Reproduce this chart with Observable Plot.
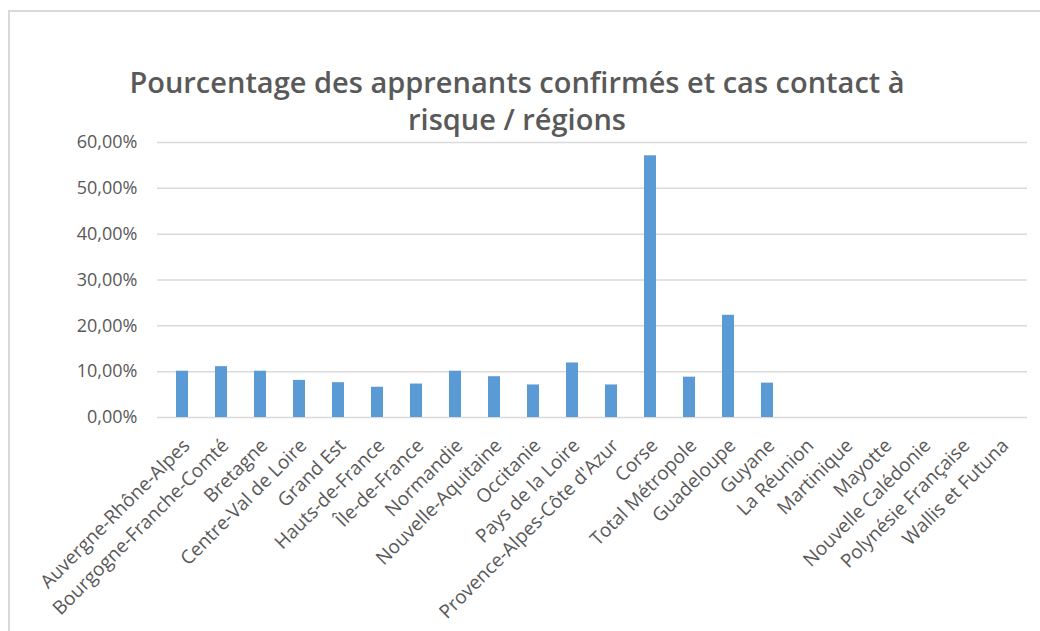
<!DOCTYPE html>
<html>
<head>
<meta charset="utf-8">
<script src="https://cdn.jsdelivr.net/npm/d3@7"></script>
<script src="https://cdn.jsdelivr.net/npm/@observablehq/plot@0.6"></script>
<style>
  html, body { margin: 0; padding: 0; background: #fff; }
  #wrap { position: relative; width: 1040px; height: 631px; overflow: hidden; background: #fff; }
  #frame { position: absolute; left: 8px; top: 10px; width: 1100px; height: 700px; border-left: 2.5px solid #d9d9d9; border-top: 2.5px solid #d9d9d9; box-sizing: border-box; }
  #title { position: absolute; left: 0; top: 63px; width: 1034px; text-align: center; font-family: "Open Sans", sans-serif; font-weight: 600; font-size: 29px; line-height: 37px; color: #595959; }
  #chart { position: absolute; left: 0; top: 0; }
</style>
</head>
<body>
<div id="wrap">
  <div id="frame"></div>
  <div id="title">Pourcentage des apprenants confirmés et cas contact à<br>risque / régions</div>
  <div id="chart"></div>
</div>
<script>
const regions = [
  "Auvergne-Rhône-Alpes", "Bourgogne-Franche-Comté", "Bretagne", "Centre-Val de Loire",
  "Grand Est", "Hauts-de-France", "Île-de-France", "Normandie", "Nouvelle-Aquitaine",
  "Occitanie", "Pays de la Loire", "Provence-Alpes-Côte d'Azur", "Corse", "Total Métropole",
  "Guadeloupe", "Guyane", "La Réunion", "Martinique", "Mayotte", "Nouvelle Calédonie",
  "Polynésie Française", "Wallis et Futuna"
];
const values = [
  0.101, 0.111, 0.101, 0.081, 0.076, 0.066, 0.073, 0.101, 0.089,
  0.071, 0.119, 0.071, 0.571, 0.088, 0.223, 0.075,
  null, null, null, null, null, null
];
const yTicks = [0, 0.1, 0.2, 0.3, 0.4, 0.5, 0.6];

const data = regions.map((r, i) => ({region: r, value: values[i]}));
const fmt = d => (d * 100).toFixed(2).replace(".", ",") + "%";

const chart = Plot.plot({
  width: 1040,
  height: 631,
  marginTop: 142,
  marginBottom: 214,
  marginLeft: 157,
  marginRight: 13,
  style: {background: "transparent", color: "#595959", fontFamily: "'Open Sans', sans-serif", overflow: "visible"},
  x: {domain: regions, paddingInner: 0.68, paddingOuter: 0.34, label: null},
  y: {domain: [0, 0.6], label: null},
  marks: [
    Plot.ruleY(yTicks, {stroke: "#d9d9d9", strokeWidth: 1.5}),
    Plot.barY(data.filter(d => d.value != null), {x: "region", y: "value", fill: "#5b9bd5"}),
    Plot.axisY({ticks: yTicks, tickFormat: fmt, tickSize: 0, tickPadding: 20, fontSize: 18, fill: "#595959", label: null}),
    Plot.axisX({tickRotate: -45, tickSize: 0, tickPadding: 25, dx: 4, fontSize: 19, fill: "#595959", label: null})
  ]
});
document.getElementById("chart").appendChild(chart);
</script>
</body>
</html>
